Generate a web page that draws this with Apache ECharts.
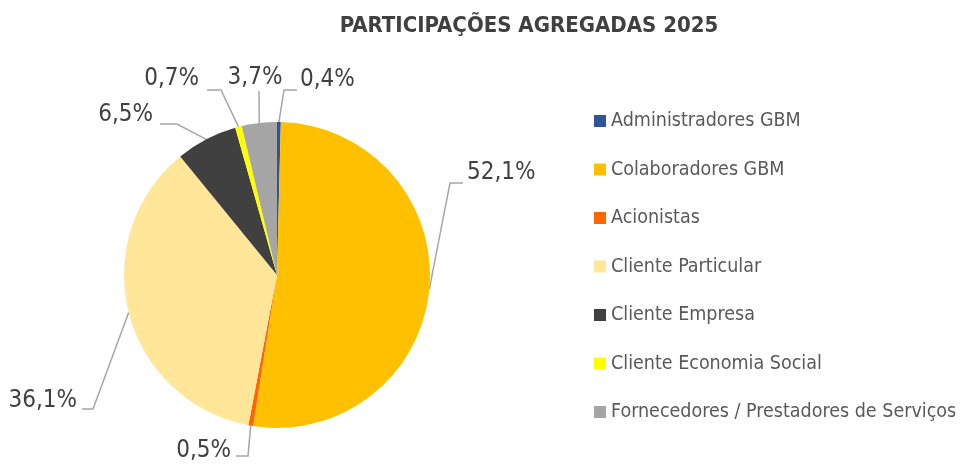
<!DOCTYPE html>
<html>
<head>
<meta charset="utf-8">
<script src="https://cdn.jsdelivr.net/npm/echarts@6/dist/echarts.min.js"></script>
<style>
  html, body { margin: 0; padding: 0; background: #fff; }
  #main { width: 961px; height: 465px; }
</style>
</head>
<body>
<div id="main"></div>
<script>
// categories and shares (%)
const categories = [
  'Administradores GBM',
  'Colaboradores GBM',
  'Acionistas',
  'Cliente Particular',
  'Cliente Empresa',
  'Cliente Economia Social',
  'Fornecedores / Prestadores de Serviços'
]
const shares = [0.4, 52.1, 0.5, 36.1, 6.5, 0.7, 3.7]
const colors = ['#2F5597', '#FFC000', '#FF6600', '#FFE699', '#404040', '#FFFF00', '#A5A5A5']

const font = '"Liberation Sans Narrow", "DejaVu Sans Condensed", "Liberation Sans", sans-serif'

// excel-like label placement: text anchor + leader line elbow/end (data order)
const spotByIndex = [
  { x: 300, y: 80, align: 'left', elbow: [284, 90], end: [297, 90] },     // 0,4%
  { x: 467, y: 173, align: 'left', elbow: [450, 183], end: [463, 183] },  // 52,1%
  { x: 231, y: 451, align: 'right', elbow: [248, 456], end: [236, 456] }, // 0,5%
  { x: 77, y: 401, align: 'right', elbow: [93, 409], end: [82, 409] },    // 36,1%
  { x: 153, y: 115, align: 'right', elbow: [177, 124], end: [160, 124] }, // 6,5%
  { x: 199, y: 79, align: 'right', elbow: [221, 90], end: [207, 90] },    // 0,7%
  { x: 255, y: 78, align: 'center', elbow: [259, 91], end: [259, 91] }    // 3,7%
]

const chart = echarts.init(document.getElementById('main'))

chart.setOption({
  animation: false,
  color: colors,
  title: {
    text: 'PARTICIPAÇÕES AGREGADAS 2025',
    left: 524,
    top: 10,
    textAlign: 'center',
    textStyle: { fontFamily: font, fontSize: 22, fontWeight: 'bold', color: '#404040' }
  },
  legend: {
    orient: 'vertical',
    left: 589,
    top: 106,
    itemWidth: 12,
    itemHeight: 12,
    itemGap: 28.5,
    icon: 'rect',
    textStyle: { fontFamily: font, fontSize: 19.5, color: '#595959' },
    data: categories
  },
  series: [{
    type: 'pie',
    center: [277, 275],
    radius: 153,
    startAngle: 90,
    clockwise: true,
    avoidLabelOverlap: false,
    data: categories.map((name, i) => ({ name, value: shares[i] })),
    label: {
      show: true,
      position: 'outside',
      formatter: p => p.value.toFixed(1).replace('.', ',') + '%',
      fontFamily: font,
      fontSize: 24,
      color: '#404040'
    },
    labelLine: {
      show: true,
      length: 12,
      length2: 12,
      lineStyle: { color: '#A6A6A6', width: 1.5 }
    },
    labelLayout: p => {
      const s = spotByIndex[p.dataIndex]
      const start = p.labelLinePoints ? p.labelLinePoints[0] : s.elbow
      return {
        x: s.x,
        y: s.y,
        align: s.align,
        verticalAlign: 'middle',
        labelLinePoints: [start, s.elbow, s.end]
      }
    },
    itemStyle: { borderWidth: 0 },
    emphasis: { disabled: true }
  }]
})
</script>
</body>
</html>
